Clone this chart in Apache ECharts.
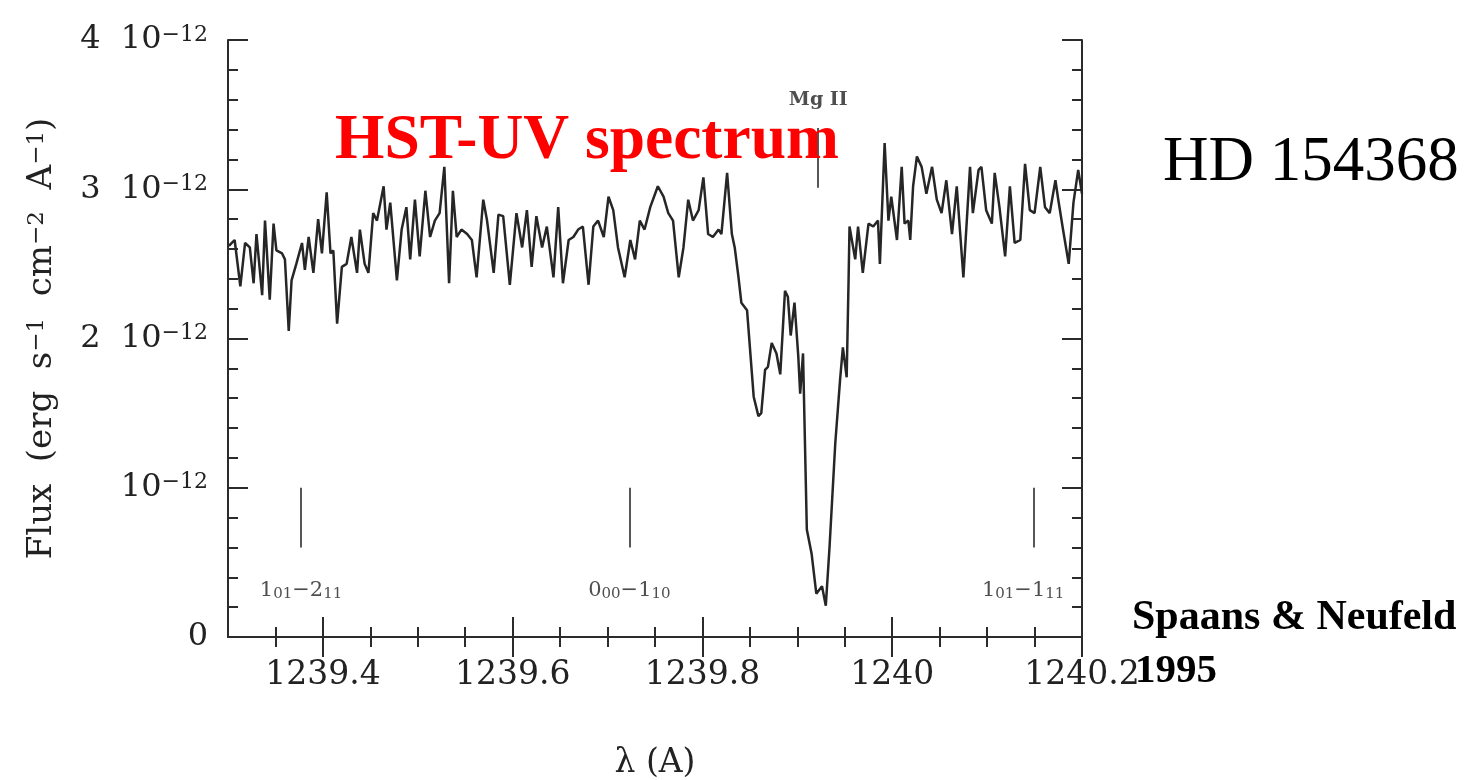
<!DOCTYPE html>
<html><head><meta charset="utf-8">
<script src="https://cdn.jsdelivr.net/npm/echarts@6/dist/echarts.min.js"></script>
<style>html,body{margin:0;padding:0;background:#fff}#c{width:1474px;height:780px}</style>
</head><body><div id="c"></div>
<script>
// wavelength in Angstrom
const wavelength = [
1239.301,1239.304,1239.307,1239.313,1239.318,1239.323,1239.327,1239.330,1239.336,1239.339,
1239.344,1239.348,1239.351,1239.357,1239.360,1239.364,1239.367,1239.372,1239.378,1239.381,
1239.385,1239.390,1239.395,1239.399,1239.404,1239.408,1239.411,1239.415,1239.420,1239.425,
1239.430,1239.436,1239.439,1239.444,1239.448,1239.453,1239.457,1239.464,1239.467,1239.471,
1239.478,1239.483,1239.488,1239.492,1239.497,1239.502,1239.508,1239.513,1239.518,1239.523,
1239.528,1239.533,1239.537,1239.541,1239.546,1239.552,1239.557,1239.562,1239.569,1239.573,
1239.580,1239.585,1239.590,1239.597,1239.604,1239.610,1239.615,1239.620,1239.625,1239.631,
1239.636,1239.643,1239.648,1239.653,1239.659,1239.664,1239.669,1239.674,1239.680,1239.685,
1239.690,1239.696,1239.701,1239.706,1239.711,1239.718,1239.724,1239.729,1239.734,1239.739,
1239.745,1239.753,1239.759,1239.764,1239.769,1239.775,1239.780,1239.785,1239.790,1239.796,
1239.801,1239.806,1239.811,1239.817,1239.820,1239.826,1239.831,1239.834,1239.838,1239.841,
1239.847,1239.854,1239.859,1239.862,1239.866,1239.869,1239.873,1239.878,1239.882,1239.887,
1239.890,1239.893,1239.897,1239.901,1239.903,1239.906,1239.910,1239.915,1239.920,1239.926,
1239.930,1239.934,1239.940,1239.945,1239.948,1239.952,1239.954,1239.955,1239.961,1239.964,
1239.969,1239.975,1239.980,1239.985,1239.987,1239.992,1239.996,1239.999,1240.005,1240.010,
1240.013,1240.017,1240.019,1240.022,1240.026,1240.031,1240.036,1240.042,1240.047,1240.052,
1240.057,1240.063,1240.068,1240.075,1240.082,1240.085,1240.091,1240.094,1240.099,1240.105,
1240.108,1240.113,1240.119,1240.124,1240.129,1240.135,1240.140,1240.145,1240.150,1240.156,
1240.161,1240.166,1240.172,1240.175,1240.180,1240.186,1240.191,1240.196,1240.200
];
// flux in units of 10^-12 erg s^-1 cm^-2 A^-1
const flux = [
2.62,2.64,2.66,2.35,2.64,2.61,2.37,2.70,2.29,2.79,
2.26,2.77,2.59,2.57,2.53,2.05,2.39,2.50,2.64,2.46,
2.68,2.44,2.80,2.57,2.98,2.57,2.59,2.10,2.48,2.50,
2.68,2.44,2.73,2.50,2.44,2.84,2.79,3.02,2.73,2.91,
2.39,2.73,2.88,2.53,2.93,2.55,2.99,2.68,2.79,2.84,
3.15,2.37,2.99,2.68,2.73,2.70,2.66,2.41,2.93,2.79,
2.44,2.83,2.82,2.36,2.84,2.61,2.86,2.48,2.82,2.61,
2.75,2.41,2.88,2.37,2.66,2.68,2.73,2.75,2.36,2.75,
2.79,2.68,2.95,2.86,2.61,2.41,2.66,2.53,2.79,2.73,
2.88,3.02,2.95,2.84,2.79,2.41,2.61,2.93,2.79,2.86,
3.08,2.70,2.68,2.73,2.70,3.11,2.70,2.61,2.41,2.24,
2.19,1.61,1.48,1.50,1.79,1.81,1.97,1.90,1.76,2.32,
2.28,2.02,2.24,1.88,1.63,1.90,0.72,0.56,0.29,0.34,
0.21,0.61,1.30,1.72,1.94,1.74,2.39,2.75,2.53,2.75,
2.44,2.77,2.75,2.79,2.50,3.31,2.79,2.95,2.66,3.15,
2.77,2.79,2.66,3.02,3.22,3.15,2.97,3.15,2.93,2.84,
3.06,2.70,3.02,2.41,3.15,2.84,3.13,3.15,2.86,2.77,
3.11,2.88,2.55,3.02,2.64,2.66,3.17,2.86,2.84,3.15,
2.88,2.84,3.06,2.93,2.73,2.50,2.91,3.13,2.97
];
const xTickLabels = [1239.4, 1239.6, 1239.8, 1240, 1240.2];
const xMinorTicks = [1239.35,1239.45,1239.5,1239.55,1239.65,1239.7,1239.75,1239.85,1239.9,1239.95,1240.05,1240.1,1240.15];
const yTickValues = [0, 1, 2, 3, 4];
const yMinorTicks = [0.2,0.4,0.6,0.8,1.2,1.4,1.6,1.8,2.2,2.4,2.6,2.8,3.2,3.4,3.6,3.8];
// H2O transitions
const transWavelength = [1239.377, 1239.723, 1240.149];
const transLabelX = [1239.377, 1239.723, 1240.138];
const transLabels = ['{m|1}{u|01}{m|−2}{u|11}', '{m|0}{u|00}{m|−1}{u|10}', '{m|1}{u|01}{m|−1}{u|11}'];
const transTop = 1.0, transBottom = 0.6, transLabelY = 0.31;
const mgWavelength = 1239.922, mgTop = 3.41, mgBottom = 3.01, mgLabelY = 3.60;

const XMIN = 1239.3, XMAX = 1240.2, YMIN = 0, YMAX = 4;
const AX = '#2b2b2b';
const serif = 'DejaVu Serif';

function xAxisDef(pos, vals, len, labels, line) {
  return {
    type: 'value', min: XMIN, max: XMAX, position: pos, splitLine: {show: false},
    axisLine: {show: line, lineStyle: {color: AX, width: 2}},
    axisTick: {show: true, inside: true, length: len, customValues: vals, lineStyle: {color: AX, width: 2}},
    axisLabel: labels ? {show: true, customValues: vals, fontFamily: serif, fontSize: 33, color: '#222', margin: 22,
      formatter: v => String(v)} : {show: false},
    axisPointer: {show: false}
  };
}
function yAxisDef(pos, vals, len, labels, line) {
  return {
    type: 'value', min: YMIN, max: YMAX, position: pos, splitLine: {show: false},
    axisLine: {show: line, lineStyle: {color: AX, width: 2}},
    axisTick: {show: true, inside: true, length: len, customValues: vals, lineStyle: {color: AX, width: 2}},
    axisLabel: labels ? {show: true, customValues: vals, margin: 20, color: '#222',
      formatter: v => v === 0 ? '{n|0}' : (v === 1 ? '{n|10}{s|−12}' : '{n|' + v + '  10}{s|−12}'),
      rich: {
        n: {fontFamily: serif, fontSize: 32, color: '#222', lineHeight: 32, padding: [11, 0, 11, 0]},
        s: {fontFamily: serif, fontSize: 22, color: '#222', lineHeight: 22, verticalAlign: 'top'}
      }} : {show: false}
  };
}

const xAxes = [
  xAxisDef('bottom', xTickLabels, 20, true, true),
  xAxisDef('bottom', xMinorTicks, 10, false, false),
  xAxisDef('top', xTickLabels, 20, false, true),
  xAxisDef('top', xMinorTicks, 10, false, false)
];
xAxes[0].name = 'λ (A)';
xAxes[0].nameLocation = 'middle';
xAxes[0].nameGap = 110;
xAxes[0].nameTextStyle = {fontFamily: serif, fontSize: 33, color: '#222'};

const yAxes = [
  yAxisDef('left', yTickValues, 20, true, true),
  yAxisDef('left', yMinorTicks, 10, false, false),
  yAxisDef('right', yTickValues, 20, false, true),
  yAxisDef('right', yMinorTicks, 10, false, false)
];
yAxes[0].name = '{n|Flux  (erg  s}{s|−1}{n|  cm}{s|−2}{n|  A}{s|−1}{n|)}';
yAxes[0].nameLocation = 'middle';
yAxes[0].nameGap = 163;
yAxes[0].nameTextStyle = {
  rich: {
    n: {fontFamily: serif, fontSize: 34, color: '#222', lineHeight: 34, padding: [10, 0, 10, 0]},
    s: {fontFamily: serif, fontSize: 23, color: '#222', lineHeight: 23, verticalAlign: 'top'}
  }
};

const spectrum = wavelength.map((w, i) => [w, flux[i]]);
const markerSegs = transWavelength.map(w => [{coord: [w, transTop]}, {coord: [w, transBottom]}])
  .concat([[{coord: [mgWavelength, mgTop]}, {coord: [mgWavelength, mgBottom]}]]);
const labelData = transLabelX.map((w, i) => ({value: [w, transLabelY], name: transLabels[i]}));

const chart = echarts.init(document.getElementById('c'), null, {renderer: 'canvas'});
chart.setOption({
  animation: false,
  backgroundColor: '#fff',
  grid: {left: 228, right: 392, top: 40, bottom: 143, containLabel: false, outerBoundsMode: 'none'},
  xAxis: xAxes,
  yAxis: yAxes,
  series: [
    {
      type: 'line', data: spectrum, xAxisIndex: 0, yAxisIndex: 0, showSymbol: false, symbol: 'none',
      lineStyle: {color: '#262626', width: 2.5}, z: 3,
      markLine: {symbol: 'none', silent: true, animation: false, label: {show: false},
        lineStyle: {color: '#444', width: 1.8, type: 'solid'}, data: markerSegs}
    },
    {
      type: 'scatter', data: labelData, symbolSize: 1, itemStyle: {color: 'transparent'}, silent: true,
      label: {show: true, position: 'inside', formatter: p => p.name,
        rich: {
          m: {fontFamily: serif, fontSize: 21, color: '#222', lineHeight: 21, padding: [4, 0, 4, 0]},
          u: {fontFamily: serif, fontSize: 15, color: '#222', lineHeight: 15, verticalAlign: 'bottom'}
        }}
    },
    {
      type: 'scatter', data: [{value: [mgWavelength, mgLabelY], name: 'Mg II'}], symbolSize: 1,
      itemStyle: {color: 'transparent'}, silent: true,
      label: {show: true, position: 'inside', formatter: p => p.name,
        fontFamily: serif, fontWeight: 'bold', fontSize: 19, color: '#222'}
    }
  ],
  graphic: [
    {type: 'text', left: 335, top: 110, z: 100, style: {text: 'HST-UV spectrum', font: 'bold 63.5px "Liberation Serif"', fill: '#ff0000'}},
    {type: 'text', left: 1163, top: 132, z: 100, style: {text: 'HD 154368', font: '63px "Liberation Serif"', fill: '#000'}},
    {type: 'text', left: 1132, top: 597, z: 100, style: {text: 'Spaans & Neufeld', font: 'bold 42px "Liberation Serif"', fill: '#000'}},
    {type: 'text', left: 1135, top: 651, z: 100, style: {text: '1995', font: 'bold 41px "Liberation Serif"', fill: '#000'}}
  ]
});
</script>
</body></html>
